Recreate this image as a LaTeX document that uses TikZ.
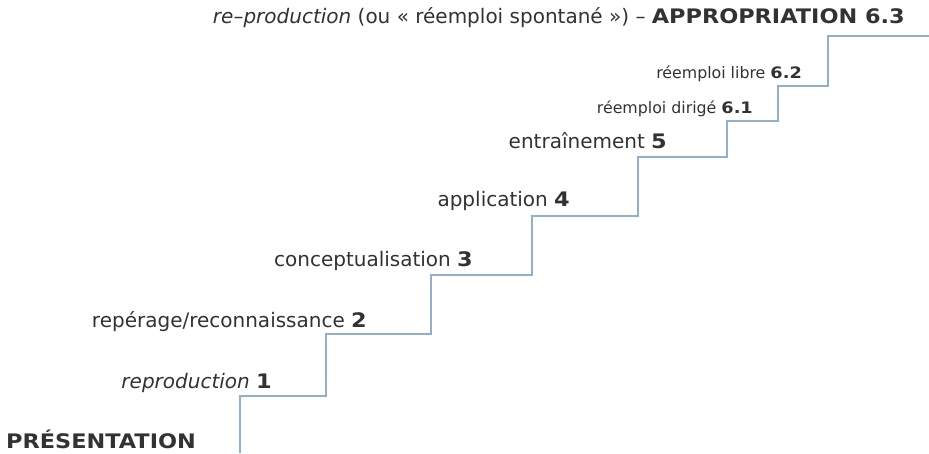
\documentclass[tikz,border=0pt]{standalone}
\usepackage{fontspec}
\setmainfont{DejaVu Sans}[BoldFeatures={FakeStretch=1.12}]
\definecolor{stairblue}{RGB}{145,176,205}
\definecolor{txtgrey}{RGB}{50,50,50}
\begin{document}
\begin{tikzpicture}[x=1pt,y=-1pt,
  lbl/.style={inner sep=0pt,text=txtgrey,font=\fontsize{20}{24}\selectfont,anchor=base east},
  lblsmall/.style={lbl,font=\fontsize{15.8}{19}\selectfont},
  stair/.style={draw=stairblue,line width=1.5pt,line join=miter}]
\useasboundingbox (0,0) rectangle (929,453);
\coordinate (s0) at (240,453);
\coordinate (s1) at (240,396);
\coordinate (s2) at (326,396);
\coordinate (s3) at (326,334);
\coordinate (s4) at (431,334);
\coordinate (s5) at (431,275);
\coordinate (s6) at (532,275);
\coordinate (s7) at (532,216);
\coordinate (s8) at (638,216);
\coordinate (s9) at (638,157);
\coordinate (s10) at (727,157);
\coordinate (s11) at (727,121);
\coordinate (s12) at (778,121);
\coordinate (s13) at (778,86);
\coordinate (s14) at (828,86);
\coordinate (s15) at (828,36);
\coordinate (s16) at (929,36);
\draw[stair] (s0) -- (s1) -- (s2) -- (s3) -- (s4) -- (s5) -- (s6) -- (s7) -- (s8)
  -- (s9) -- (s10) -- (s11) -- (s12) -- (s13) -- (s14) -- (s15) -- (s16);
\node[lbl,anchor=base west] (p0) at (6,448) {\textbf{PRÉSENTATION}};
\node[lbl] (p1) at (272,388) {\textit{reproduction} \textbf{1}};
\node[lbl] (p2) at (367,327) {repérage/reconnaissance \textbf{2}};
\node[lbl] (p3) at (473,266) {conceptualisation \textbf{3}};
\node[lbl] (p4) at (570,206) {application \textbf{4}};
\node[lbl] (p5) at (667,148) {entraînement \textbf{5}};
\node[lblsmall] (p61) at (753,113) {réemploi dirigé \textbf{6.1}};
\node[lblsmall] (p62) at (802,78) {réemploi libre \textbf{6.2}};
\node[lbl] (p63) at (905,23) {\textit{re–production} (ou « réemploi spontané ») – \textbf{APPROPRIATION 6.3}};
\end{tikzpicture}
\end{document}
